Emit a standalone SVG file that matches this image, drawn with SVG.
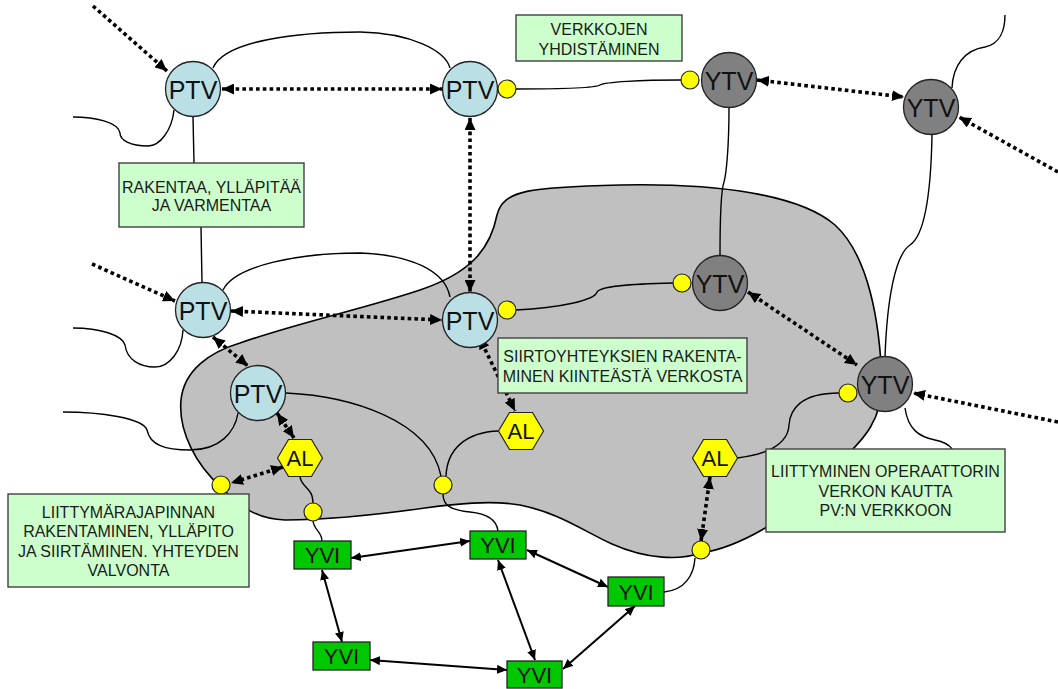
<svg xmlns="http://www.w3.org/2000/svg" width="1058" height="689" viewBox="0 0 1058 689">
<defs>
<style>
.ptv{fill:#BADFE4;stroke:#222;stroke-width:1.3}
.ytv{fill:#808080;stroke:#222;stroke-width:1.3}
.dot{fill:#FFFF00;stroke:#222;stroke-width:1.2}
.al{fill:#FFFF00;stroke:#222;stroke-width:1.2}
.yvi{fill:#00C800;stroke:#222;stroke-width:1.3}
.box{fill:#CCFFCC;stroke:#404040;stroke-width:1.4}
.wire{fill:none;stroke:#000;stroke-width:1.4}
.dash{fill:none;stroke:#000;stroke-width:3.6;stroke-dasharray:3.6 3.2;marker-start:url(#ad);marker-end:url(#ad)}
.dash1{fill:none;stroke:#000;stroke-width:3.6;stroke-dasharray:3.6 3.2;marker-end:url(#ad)}
.sol{fill:none;stroke:#000;stroke-width:2;marker-start:url(#as);marker-end:url(#as)}
.nt{font-family:"Liberation Sans",Arial,sans-serif;font-size:25px;fill:#111;text-anchor:middle}
.st{font-family:"Liberation Sans",Arial,sans-serif;font-size:22px;fill:#111;text-anchor:middle}
.bt{font-family:"Liberation Sans",Arial,sans-serif;font-size:16px;fill:#1a1a1a;text-anchor:middle}
</style>
<marker id="ad" viewBox="0 0 12 11" refX="12" refY="5.5" markerWidth="12" markerHeight="11" markerUnits="userSpaceOnUse" orient="auto-start-reverse"><path d="M0,0 L12,5.5 L0,11 z" fill="#000"/></marker>
<marker id="as" viewBox="0 0 10 9" refX="10" refY="4.5" markerWidth="10" markerHeight="9" markerUnits="userSpaceOnUse" orient="auto-start-reverse"><path d="M0,0 L10,4.5 L0,9 z" fill="#000"/></marker>
<polygon id="hex" points="-22.5,0 -11.5,-18.5 11.5,-18.5 22.5,0 11.5,18.5 -11.5,18.5"/>
</defs>
<rect width="1058" height="689" fill="#fff"/>

<g id="area">
<path d="M221,487 C197,466 178,432 181,400 C184,370 210,352 240,343 C300,322 360,310 420,290 C470,273 490,250 497,215 C503,190 530,187 620,185 C720,183 800,195 835,225 C868,255 880,320 882,384 C882,420 862,440 850,452 C820,485 790,515 767,527 C745,540 722,550 701,553 C680,560 648,560 612,544 C585,532 560,513 520,505 C490,500 455,504 425,508 C375,515 330,520 285,520 C255,519 238,505 221,487 Z" fill="#C0C0C0" stroke="#000" stroke-width="1.6"/>
</g>

<g id="connectors">
<path class="wire" d="M213,68 C225,40 300,32 360,32 C410,33 445,50 450,68"/>
<path class="wire" d="M174,110 C172,130 160,146 148,146 C130,146 120,140 120,133 C118,122 95,117 73,117"/>
<path class="wire" d="M193,117 L194,163"/>
<path class="wire" d="M201,227 L202,283"/>
<path class="wire" d="M516,89 C560,89 595,88 600,85 C605,82 640,80 681,80"/>
<path class="wire" d="M729,107 C729,150 726,175 724,182 C721,190 720,230 720,256"/>
<path class="wire" d="M952,88 C953,65 965,50 985,47 C1000,44 1005,30 1005,15"/>
<path class="wire" d="M932,135 C931,190 925,235 910,245 C895,255 887,300 885,357"/>
<path class="wire" d="M905,408 C908,430 920,437 935,440 C945,442 950,446 952,449"/>
<path class="wire" d="M839,393 C800,393 790,410 789,425 C788,445 765,455 737,458"/>
<path class="wire" d="M673,283 C630,284 600,286 597,292 C595,300 560,308 516,310"/>
<path class="wire" d="M223,290 C235,265 300,253 360,253 C410,255 445,270 450,297"/>
<path class="wire" d="M183,330 C182,350 170,367 155,367 C140,367 127,360 125,345 C122,335 100,328 73,328"/>
<path class="wire" d="M238,413 C235,432 220,450 190,450 C165,450 150,445 147,430 C143,418 100,412 63,412"/>
<path class="wire" d="M286,393 C350,396 430,420 441,476"/>
<path class="wire" d="M446,476 C447,450 465,432 499,431"/>
<path class="wire" d="M443,494 C443,505 450,510 470,512 C490,514 497,522 498,531"/>
<path class="wire" d="M300,476 C300,485 310,488 312,496 C313,500 313,502 313,503"/>
<path class="wire" d="M313,521 C314,530 322,532 322,541"/>
<path class="wire" d="M664,592 C685,590 694,575 695,558"/>

<path class="dash1" d="M93,6 L167,71"/>
<path class="dash" d="M222,89 L442,89"/>
<path class="dash" d="M470,118 L470,292"/>
<path class="dash" d="M757,80 L904,97"/>
<path class="dash1" d="M1058,172 L959,117"/>
<path class="dash1" d="M92,264 L175,301"/>
<path class="dash" d="M231,311 L442,320"/>
<path class="dash" d="M213,337 L248,366"/>
<path class="dash" d="M277,413 L294,438"/>
<path class="dash" d="M283,467 L231,483"/>
<path class="dash" d="M479,337 L515,411"/>
<path class="dash" d="M748,292 L857,365"/>
<path class="dash1" d="M1058,422 L913,393"/>
<path class="dash" d="M710,477 L701,541"/>

<path class="sol" d="M351,558 L470,541"/>
<path class="sol" d="M527,550 L608,587"/>
<path class="sol" d="M322,570 L342,642"/>
<path class="sol" d="M498,560 L535,660"/>
<path class="sol" d="M635,606 L563,669"/>
<path class="sol" d="M370,660 L507,670"/>
</g>

<g id="ports">
<circle class="dot" cx="507" cy="89" r="9"/>
<circle class="dot" cx="690" cy="80" r="9"/>
<circle class="dot" cx="507" cy="310" r="9"/>
<circle class="dot" cx="682" cy="283" r="9"/>
<circle class="dot" cx="848" cy="393" r="9"/>
<circle class="dot" cx="221" cy="485" r="9"/>
<circle class="dot" cx="313" cy="512" r="9"/>
<circle class="dot" cx="443" cy="485" r="9"/>
<circle class="dot" cx="701" cy="550" r="9"/>
</g>

<g id="ptv1"><circle class="ptv" cx="193" cy="89" r="27.5"/><text class="nt" x="193" y="98.5">PTV</text></g>
<g id="ptv2"><circle class="ptv" cx="470" cy="89" r="27.5"/><text class="nt" x="470" y="98.5">PTV</text></g>
<g id="ptv3"><circle class="ptv" cx="203" cy="310" r="27.5"/><text class="nt" x="203" y="319.5">PTV</text></g>
<g id="ptv4"><circle class="ptv" cx="258" cy="393" r="27.5"/><text class="nt" x="258" y="402.5">PTV</text></g>
<g id="ptv5"><circle class="ptv" cx="470" cy="320" r="27.5"/><text class="nt" x="470" y="329.5">PTV</text></g>

<g id="ytv1"><circle class="ytv" cx="729" cy="80" r="27.5"/><text class="nt" x="729" y="89.5">YTV</text></g>
<g id="ytv2"><circle class="ytv" cx="931" cy="107" r="27.5"/><text class="nt" x="931" y="116.5">YTV</text></g>
<g id="ytv3"><circle class="ytv" cx="720" cy="283" r="27.5"/><text class="nt" x="720" y="292.5">YTV</text></g>
<g id="ytv4"><circle class="ytv" cx="885" cy="384" r="27.5"/><text class="nt" x="885" y="393.5">YTV</text></g>

<g id="al1"><use href="#hex" class="al" x="300" y="458"/><text class="st" x="300" y="466">AL</text></g>
<g id="al2"><use href="#hex" class="al" x="521" y="431"/><text class="st" x="521" y="439">AL</text></g>
<g id="al3"><use href="#hex" class="al" x="715" y="458"/><text class="st" x="715" y="466">AL</text></g>

<g id="yvi1"><rect class="yvi" x="294" y="541" width="57" height="28"/><text class="st" x="322.5" y="563">YVI</text></g>
<g id="yvi2"><rect class="yvi" x="470" y="531" width="56" height="28"/><text class="st" x="498" y="553">YVI</text></g>
<g id="yvi3"><rect class="yvi" x="608" y="577" width="56" height="29"/><text class="st" x="636" y="599.5">YVI</text></g>
<g id="yvi4"><rect class="yvi" x="313" y="642" width="57" height="28"/><text class="st" x="341.5" y="664">YVI</text></g>
<g id="yvi5"><rect class="yvi" x="507" y="661" width="55" height="27"/><text class="st" x="534.5" y="682.5">YVI</text></g>

<g id="note-verkkojen"><rect class="box" x="516" y="15" width="166" height="46"/><text class="bt" x="599" y="35">VERKKOJEN</text><text class="bt" x="599" y="55">YHDISTÄMINEN</text></g>
<g id="note-rakentaa"><rect class="box" x="119" y="163" width="185" height="64"/><text class="bt" x="211.5" y="193">RAKENTAA, YLLÄPITÄÄ</text><text class="bt" x="211.5" y="211">JA VARMENTAA</text></g>
<g id="note-siirto"><rect class="box" x="498" y="338" width="249" height="55"/><text class="bt" x="622.5" y="362">SIIRTOYHTEYKSIEN RAKENTA-</text><text class="bt" x="622.5" y="382">MINEN KIINTEÄSTÄ VERKOSTA</text></g>
<g id="note-liittyma"><rect class="box" x="8" y="494" width="241" height="93"/><text class="bt" x="128.5" y="518">LIITTYMÄRAJAPINNAN</text><text class="bt" x="128.5" y="537">RAKENTAMINEN, YLLÄPITO</text><text class="bt" x="128.5" y="557">JA SIIRTÄMINEN. YHTEYDEN</text><text class="bt" x="128.5" y="576">VALVONTA</text></g>
<g id="note-operaattori"><rect class="box" x="766" y="449" width="239" height="83"/><text class="bt" x="885.5" y="477">LIITTYMINEN OPERAATTORIN</text><text class="bt" x="885.5" y="497">VERKON KAUTTA</text><text class="bt" x="885.5" y="516">PV:N VERKKOON</text></g>
</svg>
